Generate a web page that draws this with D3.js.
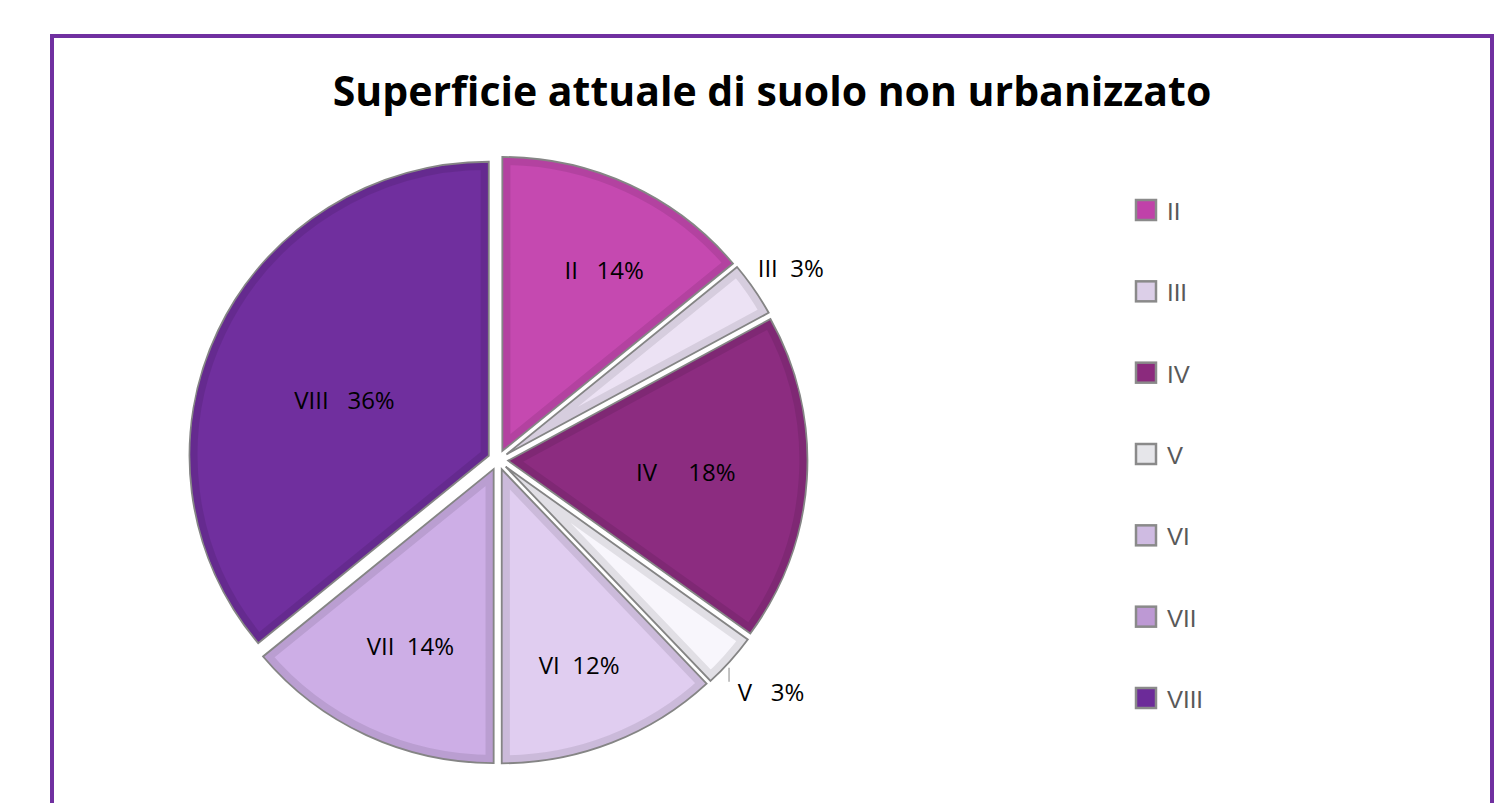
<!DOCTYPE html>
<html>
<head>
<meta charset="utf-8">
<script src="https://cdn.jsdelivr.net/npm/d3@7"></script>
<style>
  body { margin: 0; background: #ffffff; }
  svg { display: block; }
</style>
</head>
<body>
<svg id="chart" width="1508" height="803"></svg>
<script>
// data
var classes = ["II", "III", "IV", "V", "VI", "VII", "VIII"];
var shares = [14, 3, 18, 3, 12, 14, 36];
var sliceColors = ["#c549b0", "#ece2f4", "#8c2c80", "#f8f6fc", "#e0cdf0", "#cdaee6", "#702f9e"];
var legendColors = ["#c041a9", "#dccfe8", "#8b2a7d", "#e6e6ea", "#cfbbe2", "#bd99d4", "#6c2b99"];
var labelGaps = ["   ", "  ", "     ", "   ", "  ", "  ", "   "];
var title = "Superficie attuale di suolo non urbanizzato";

// label placement (fraction of radius, angle nudge in degrees)
var labelRadius = [0.74, 1.19, 0.64, 1.22, 0.75, 0.70, 0.56];
var labelNudge = [4, 1, 0, -1, 0, 0, -4];

var svg = d3.select("#chart");

// frame
svg.append("rect")
   .attr("x", 52).attr("y", 36)
   .attr("width", 1440).attr("height", 800)
   .attr("fill", "none")
   .attr("stroke", "#7030a0")
   .attr("stroke-width", 4);

svg.append("text")
   .attr("x", 772)
   .attr("y", 106)
   .attr("text-anchor", "middle")
   .style("font-family", "'Open Sans', sans-serif")
   .style("font-weight", "bold")
   .style("font-size", "41px")
   .text(title);

var cx = 498, cy = 460, r = 294, explode = 10;

var data = classes.map(function(c, i){
    return { name: c, value: shares[i], color: sliceColors[i], gap: labelGaps[i], i: i };
});

var pie = d3.pie().sort(null).value(function(d){ return d.value });
var arcs = pie(data);
var arc = d3.arc().innerRadius(0).outerRadius(r);

function mid(d){ return (d.startAngle + d.endAngle) / 2 }
function offset(d, dist, nudge){
    var a = mid(d) + (nudge || 0) * Math.PI / 180;
    return [Math.sin(a) * dist, -Math.cos(a) * dist];
}

var defs = svg.append("defs");
defs.selectAll("clipPath")
    .data(arcs)
    .enter()
    .append("clipPath")
    .attr("id", function(d, i){ return "clip" + i })
    .append("path")
    .attr("d", arc);

// pie slightly wider than tall, as in the picture
var pieG = svg.append("g")
              .attr("transform", "translate(" + cx + "," + cy + ") scale(1.018,1)");

var slices = pieG.selectAll("g.slice")
                 .data(arcs)
                 .enter()
                 .append("g")
                 .attr("class", "slice")
                 .attr("transform", function(d){
                     var o = offset(d, explode);
                     return "translate(" + o[0] + "," + o[1] + ")";
                 });

slices.append("path")
      .attr("d", arc)
      .attr("fill", function(d){ return d.data.color });

// bevel band inside each slice
slices.append("path")
      .attr("d", arc)
      .attr("fill", "none")
      .attr("stroke", "#000000")
      .attr("stroke-opacity", 0.09)
      .attr("stroke-width", 16)
      .attr("clip-path", function(d, i){ return "url(#clip" + i + ")" });

slices.append("path")
      .attr("d", arc)
      .attr("fill", "none")
      .attr("stroke", "#858585")
      .attr("stroke-width", 1.8)
      .attr("stroke-linejoin", "miter");

// labels
arcs.forEach(function(d, i){
    var p = offset(d, r * labelRadius[i], labelNudge[i]);
    svg.append("text")
       .attr("x", cx + p[0])
       .attr("y", cy + p[1] + 9)
       .attr("text-anchor", "middle")
       .attr("xml:space", "preserve")
       .style("white-space", "pre")
       .style("font-family", "'Open Sans', sans-serif")
       .style("font-size", "24px")
       .attr("fill", "#000000")
       .text(d.data.name + d.data.gap + d.data.value + "%");
});

// leader line for V
var vArc = arcs[3];
var vp = offset(vArc, r + explode + 4);
svg.append("line")
   .attr("x1", cx + vp[0]).attr("y1", cy + vp[1] + 4)
   .attr("x2", cx + vp[0]).attr("y2", cy + vp[1] + 18)
   .attr("stroke", "#9a9a9a")
   .attr("stroke-width", 1.2);

// legend
var legendY = d3.scalePoint()
                .domain(classes)
                .range([210, 698]);

var legend = svg.append("g")
                .selectAll("g")
                .data(data)
                .enter()
                .append("g")
                .attr("transform", function(d){ return "translate(1136," + legendY(d.name) + ")" });

legend.append("rect")
      .attr("x", 0).attr("y", -10)
      .attr("width", 20).attr("height", 20)
      .attr("fill", function(d, i){ return legendColors[i] })
      .attr("stroke", "#8a8a8a")
      .attr("stroke-width", 2.5);

legend.append("text")
      .attr("x", 31)
      .attr("y", 10)
      .style("font-family", "'Liberation Sans', Arial, sans-serif")
      .style("font-size", "24px")
      .attr("fill", "#595959")
      .text(function(d){ return d.name });
</script>
</body>
</html>
